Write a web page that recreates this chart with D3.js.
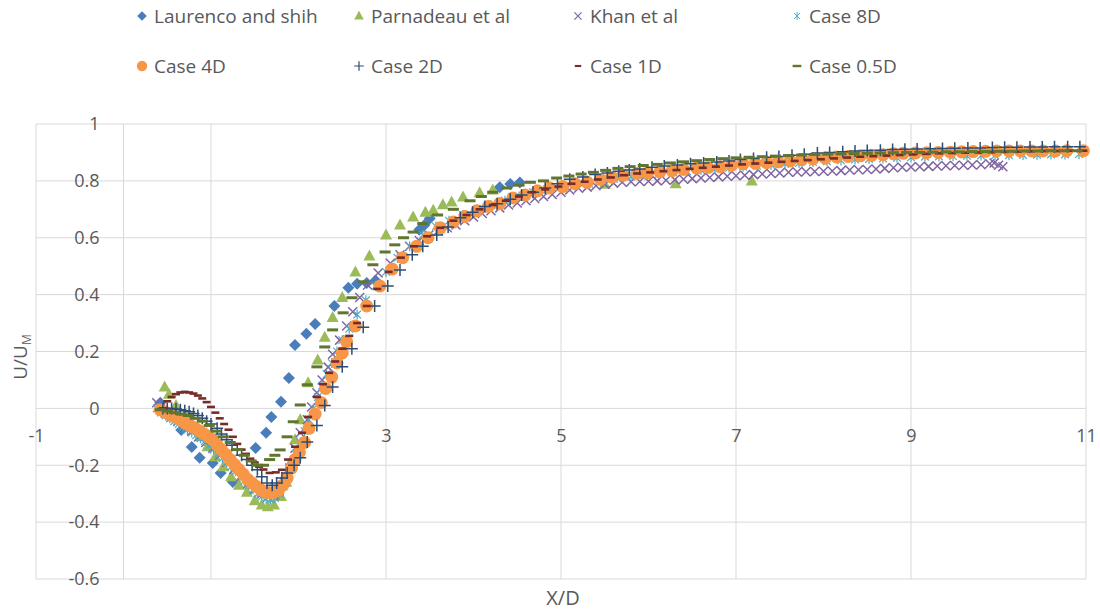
<!DOCTYPE html>
<html>
<head>
<meta charset="utf-8">
<script src="https://cdn.jsdelivr.net/npm/d3@7"></script>
<style>
  body { margin: 0; background: #fff; }
  text { font-family: "Open Sans", "Noto Sans", sans-serif; fill: #595959; }
</style>
</head>
<body>
<svg id="chart" width="1100" height="613"></svg>
<script>
// ---- data (x = X/D, y = U/U_M) ----
var laurenco = [[0.42,0.02],[0.66,-0.076],[0.78,-0.136],[0.87,-0.174],[1.02,-0.192],[1.11,-0.227],[1.25,-0.259],
  [1.51,-0.139],[1.63,-0.086],[1.69,-0.03],[1.80,0.023],[1.89,0.107],[1.96,0.223],[2.09,0.262],[2.19,0.297],
  [2.41,0.36],[2.57,0.424],[2.67,0.438],[2.78,0.441],[2.88,0.45],[3.38,0.628],[3.44,0.645],[3.5,0.668],
  [4.3,0.778],[4.42,0.789],[4.53,0.794]];

var parnadeau = [[0.47,0.075],[0.52,0.05],[0.6,0.01],[0.69,-0.03],[0.78,-0.065],[0.87,-0.1],[0.96,-0.135],[1.05,-0.17],
  [1.14,-0.205],[1.23,-0.24],[1.32,-0.27],[1.41,-0.295],[1.5,-0.325],[1.58,-0.34],[1.65,-0.346],[1.72,-0.34],
  [1.8,-0.31],[1.86,-0.26],[1.91,-0.19],[1.96,-0.11],[2.02,-0.04],[2.11,0.09],[2.22,0.17],[2.30,0.25],[2.39,0.32],
  [2.50,0.39],[2.65,0.48],[2.81,0.536],[3.0,0.61],[3.16,0.645],[3.31,0.673],[3.45,0.69],[3.54,0.697],[3.65,0.716],
  [3.75,0.726],[3.88,0.743],[4.07,0.758],[4.22,0.768],[5.5,0.788],[6.31,0.79],[7.18,0.80]];

var khan = [[0.38,0.02],[0.42,0.0],[0.48,-0.015],[0.55,-0.03],[0.62,-0.045],[0.7,-0.06],[0.78,-0.08],[0.86,-0.1],
  [0.94,-0.12],[1.02,-0.14],[1.1,-0.165],[1.18,-0.19],[1.26,-0.215],[1.34,-0.24],[1.42,-0.265],[1.5,-0.285],
  [1.58,-0.3],[1.65,-0.31],[1.72,-0.305],[1.78,-0.29],[1.84,-0.26],[1.9,-0.21],[1.96,-0.14],[2.02,-0.086],
  [2.10,-0.04],[2.15,0.005],[2.21,0.055],[2.27,0.10],[2.34,0.145],[2.39,0.19],[2.47,0.24],[2.55,0.29],[2.62,0.34],
  [2.70,0.39],[2.79,0.434],[2.91,0.476],[3.05,0.51],[3.16,0.54],[3.27,0.57],[3.38,0.59],[3.49,0.61],[3.6,0.625],
  [3.7,0.635],[3.8,0.645],[3.9,0.66],[4.0,0.673],[4.1,0.685],[4.2,0.695],[4.3,0.705],[4.4,0.715],[4.5,0.722],
  [4.6,0.73],[4.7,0.738],[4.8,0.745],[4.9,0.752],[5.0,0.76],[5.1,0.768],[5.2,0.774],[5.3,0.778],[5.4,0.783],
  [5.5,0.788],[5.6,0.792],[5.7,0.795],[5.8,0.797],[5.9,0.798],[6.0,0.799],[6.1,0.8],[6.2,0.802],[6.3,0.804],
  [6.4,0.806],[6.5,0.808],[6.6,0.81],[6.7,0.812],[6.8,0.814],[6.9,0.816],[7.0,0.818],[7.1,0.82],[7.2,0.822],
  [7.3,0.824],[7.4,0.826],[7.5,0.828],[7.6,0.83],[7.7,0.831],[7.8,0.832],[7.9,0.833],[8.0,0.834],[8.1,0.835],
  [8.2,0.836],[8.3,0.838],[8.4,0.839],[8.5,0.84],[8.6,0.842],[8.7,0.844],[8.8,0.846],[8.9,0.848],[9.0,0.849],
  [9.1,0.85],[9.2,0.851],[9.3,0.852],[9.4,0.853],[9.5,0.854],[9.6,0.855],[9.7,0.856],[9.8,0.857],[9.9,0.86],
  [9.95,0.863],[10.0,0.855],[10.05,0.85]];

var case8D = [[0.38,0.0],[0.43,-0.015],[0.48,-0.025],[0.53,-0.035],[0.58,-0.045],[0.63,-0.055],[0.68,-0.065],
  [0.73,-0.075],[0.78,-0.085],[0.83,-0.095],[0.88,-0.105],[0.93,-0.115],[0.98,-0.13],[1.03,-0.145],[1.08,-0.16],
  [1.13,-0.175],[1.18,-0.19],[1.23,-0.205],[1.28,-0.22],[1.33,-0.24],[1.38,-0.255],[1.43,-0.27],[1.48,-0.285],
  [1.53,-0.3],[1.58,-0.31],[1.63,-0.318],[1.68,-0.32],[1.73,-0.315],[1.78,-0.3],[1.83,-0.275],[1.88,-0.24],
  [1.92,-0.2],[1.97,-0.16],[2.02,-0.12],[2.07,-0.08],[2.12,-0.04],[2.17,0.0],[2.22,0.04],[2.27,0.08],[2.32,0.12],
  [2.38,0.16],[2.44,0.2],[2.5,0.24],[2.58,0.28],[2.67,0.33],[2.77,0.38],[2.88,0.43],[3.0,0.48],[3.13,0.53],
  [3.27,0.57],[3.42,0.61],[3.57,0.64],[3.72,0.66],[3.88,0.68],[4.04,0.7],[4.2,0.715],[4.36,0.73],[4.52,0.745],
  [4.68,0.76],[4.84,0.77],[5.0,0.78],[5.16,0.785],[5.32,0.79],[5.48,0.8],[5.64,0.81],[5.8,0.815],[5.96,0.82],
  [6.12,0.825],[6.28,0.83],[6.44,0.834],[6.6,0.838],[6.76,0.842],[6.92,0.846],[7.08,0.85],[7.24,0.853],[7.4,0.856],
  [7.56,0.86],[7.72,0.863],[7.88,0.866],[8.04,0.869],[8.2,0.872],[8.36,0.875],[8.52,0.877],[8.68,0.879],
  [8.84,0.881],[9.0,0.883],[9.16,0.885],[9.32,0.886],[9.48,0.887],[9.64,0.888],[9.8,0.889],[9.96,0.89],
  [10.12,0.89],[10.28,0.891],[10.44,0.892],[10.6,0.893],[10.76,0.893],[10.92,0.894]];

var case4D = [[0.42,-0.005],[0.47,-0.012],[0.52,-0.02],[0.57,-0.027],[0.62,-0.035],[0.67,-0.045],[0.72,-0.055],
  [0.77,-0.062],[0.82,-0.07],[0.87,-0.08],[0.92,-0.09],[0.97,-0.1],[1.02,-0.11],[1.07,-0.128],[1.12,-0.145],
  [1.17,-0.162],[1.22,-0.18],[1.27,-0.198],[1.32,-0.215],[1.37,-0.232],[1.42,-0.25],[1.47,-0.263],[1.52,-0.275],
  [1.57,-0.286],[1.62,-0.295],[1.67,-0.297],[1.72,-0.295],[1.77,-0.288],[1.82,-0.27],[1.87,-0.245],[1.92,-0.21],
  [1.96,-0.18],[2.01,-0.155],[2.07,-0.12],[2.12,-0.07],[2.19,-0.02],[2.26,0.02],[2.31,0.07],[2.38,0.11],
  [2.44,0.16],[2.5,0.195],[2.55,0.235],[2.65,0.29],[2.78,0.36],[2.93,0.43],[3.07,0.49],[3.19,0.53],[3.35,0.57],
  [3.48,0.6],[3.62,0.635],[3.77,0.655],[3.9,0.675],[4.04,0.695],[4.17,0.71],[4.3,0.72],[4.45,0.74],[4.59,0.75],
  [4.73,0.765],[4.87,0.775],[5.02,0.78],[5.16,0.79],[5.3,0.795],[5.45,0.805],[5.58,0.813],[5.71,0.82],[5.87,0.826],
  [5.99,0.828],[6.13,0.832],[6.27,0.836],[6.4,0.84],[6.55,0.845],[6.68,0.847],[6.82,0.85],[6.95,0.855],[7.08,0.86],
  [7.22,0.862],[7.35,0.864],[7.48,0.867],[7.62,0.87],[7.75,0.874],[7.88,0.877],[8.02,0.88],[8.15,0.884],
  [8.28,0.886],[8.42,0.888],[8.55,0.89],[8.68,0.892],[8.8,0.895],[8.91,0.897],[9.05,0.898],[9.18,0.899],[9.31,0.9],
  [9.45,0.901],[9.58,0.902],[9.71,0.903],[9.85,0.904],[9.98,0.905],[10.12,0.905],[10.25,0.905],[10.38,0.905],
  [10.51,0.905],[10.65,0.905],[10.78,0.906],[10.97,0.906]];

var case2D = [[0.45,0.0],[0.5,0.0],[0.55,0.0],[0.6,-0.002],[0.65,-0.005],[0.7,-0.008],[0.75,-0.012],[0.8,-0.018],
  [0.85,-0.025],[0.9,-0.035],[0.95,-0.045],[1.0,-0.055],[1.07,-0.07],[1.12,-0.09],[1.18,-0.11],[1.24,-0.13],
  [1.3,-0.146],[1.35,-0.165],[1.41,-0.18],[1.47,-0.2],[1.53,-0.216],[1.58,-0.24],[1.64,-0.262],[1.7,-0.27],
  [1.75,-0.262],[1.81,-0.245],[1.87,-0.227],[1.95,-0.2],[2.02,-0.174],[2.1,-0.118],[2.21,-0.06],[2.3,0.01],
  [2.39,0.075],[2.5,0.146],[2.61,0.21],[2.74,0.285],[2.87,0.36],[3.02,0.43],[3.16,0.487],[3.3,0.54],[3.42,0.57],
  [3.58,0.61],[3.71,0.638],[3.85,0.67],[3.99,0.69],[4.13,0.71],[4.27,0.72],[4.42,0.735],[4.55,0.75],[4.68,0.76],
  [4.82,0.775],[4.96,0.79],[5.1,0.806],[5.25,0.814],[5.39,0.822],[5.53,0.828],[5.66,0.834],[5.78,0.838],[5.9,0.842],
  [6.04,0.848],[6.18,0.852],[6.33,0.856],[6.48,0.86],[6.63,0.863],[6.78,0.866],[6.92,0.87],[7.05,0.875],[7.2,0.879],
  [7.35,0.883],[7.49,0.886],[7.64,0.89],[7.78,0.894],[7.93,0.898],[8.07,0.9],[8.22,0.902],[8.36,0.905],[8.5,0.907],
  [8.65,0.908],[8.79,0.91],[8.93,0.911],[9.07,0.912],[9.22,0.913],[9.36,0.914],[9.5,0.915],[9.65,0.916],[9.79,0.916],
  [9.93,0.917],[10.07,0.918],[10.21,0.918],[10.36,0.919],[10.5,0.919],[10.64,0.92],[10.79,0.92],[10.93,0.92]];

var case1D = [[0.45,0.0],[0.5,0.025],[0.55,0.04],[0.6,0.05],[0.65,0.056],[0.7,0.058],[0.75,0.056],[0.8,0.052],
  [0.85,0.045],[0.9,0.035],[0.95,0.022],[1.0,0.005],[1.05,-0.015],[1.1,-0.035],[1.15,-0.055],[1.2,-0.075],
  [1.25,-0.1],[1.3,-0.125],[1.35,-0.145],[1.4,-0.16],[1.45,-0.177],[1.5,-0.19],[1.55,-0.205],[1.6,-0.215],
  [1.67,-0.227],[1.74,-0.225],[1.81,-0.216],[1.88,-0.18],[1.96,-0.135],[2.04,-0.086],[2.11,-0.03],[2.21,0.04],
  [2.28,0.085],[2.35,0.125],[2.42,0.165],[2.5,0.21],[2.58,0.255],[2.67,0.3],[2.78,0.36],[2.9,0.42],[3.03,0.48],
  [3.17,0.53],[3.32,0.57],[3.47,0.605],[3.62,0.635],[3.77,0.66],[3.92,0.68],[4.07,0.7],[4.22,0.715],[4.37,0.73],
  [4.52,0.745],[4.67,0.76],[4.82,0.77],[4.97,0.78],[5.12,0.79],[5.27,0.797],[5.42,0.805],[5.57,0.812],[5.72,0.82],
  [5.87,0.826],[6.02,0.83],[6.17,0.834],[6.32,0.838],[6.47,0.842],[6.62,0.846],[6.77,0.85],[6.92,0.854],
  [7.07,0.858],[7.22,0.861],[7.37,0.864],[7.52,0.867],[7.67,0.87],[7.82,0.873],[7.97,0.876],[8.12,0.879],
  [8.27,0.882],[8.42,0.885],[8.57,0.887],[8.72,0.889],[8.87,0.891],[9.02,0.893],[9.17,0.895],[9.32,0.897],
  [9.47,0.898],[9.62,0.899],[9.77,0.9],[9.92,0.901],[10.07,0.902],[10.22,0.903],[10.37,0.904],[10.52,0.905],
  [10.67,0.905],[10.82,0.906],[10.97,0.906]];

var case05D = [[0.42,-0.005],[0.5,-0.01],[0.58,-0.015],[0.66,-0.02],[0.74,-0.025],[0.82,-0.035],[0.9,-0.045],
  [0.98,-0.06],[1.06,-0.08],[1.14,-0.1],[1.22,-0.12],[1.3,-0.145],[1.38,-0.165],[1.46,-0.185],[1.53,-0.2],
  [1.6,-0.2],[1.67,-0.18],[1.73,-0.165],[1.79,-0.146],[1.87,-0.1],[1.94,-0.047],[2.02,0.012],[2.1,0.083],
  [2.21,0.146],[2.3,0.216],[2.39,0.276],[2.51,0.336],[2.61,0.389],[2.74,0.445],[2.85,0.505],[2.99,0.55],
  [3.1,0.575],[3.2,0.6],[3.31,0.62],[3.42,0.65],[3.59,0.68],[3.77,0.7],[3.96,0.73],[4.09,0.745],[4.22,0.76],
  [4.38,0.775],[4.52,0.785],[4.65,0.795],[4.8,0.8],[4.95,0.81],[5.09,0.817],[5.23,0.824],[5.37,0.83],[5.51,0.837],
  [5.65,0.844],[5.79,0.85],[5.94,0.854],[6.1,0.858],[6.25,0.863],[6.4,0.867],[6.55,0.871],[6.7,0.875],[6.85,0.878],
  [7.0,0.881],[7.15,0.883],[7.3,0.885],[7.45,0.887],[7.6,0.889],[7.75,0.891],[7.9,0.893],[8.05,0.894],[8.2,0.895],
  [8.35,0.896],[8.5,0.897],[8.65,0.898],[8.8,0.899],[8.95,0.9],[9.1,0.9],[9.25,0.901],[9.4,0.902],[9.55,0.902],
  [9.7,0.903],[9.85,0.903],[10.0,0.904],[10.15,0.904],[10.3,0.905],[10.45,0.905],[10.6,0.906],[10.75,0.906],
  [10.9,0.906]];

var seriesNames = ["Laurenco and shih", "Parnadeau et al", "Khan et al", "Case 8D",
                   "Case 4D", "Case 2D", "Case 1D", "Case 0.5D"];
var seriesData = [laurenco, parnadeau, khan, case8D, case4D, case2D, case1D, case05D];
var seriesColors = ["#4a7ebb", "#9bbb59", "#8064a2", "#4bacc6", "#f79646", "#2c4d75", "#772c2a", "#5f7530"];
var seriesShapes = ["diamond", "triangle", "cross", "star", "circle", "plus", "dash", "dashWide"];

var xTicks = [-1, 1, 3, 5, 7, 9, 11];
var yTicks = [-0.6, -0.4, -0.2, 0, 0.2, 0.4, 0.6, 0.8, 1];

// ---- chart ----
var svg = d3.select("#chart");

var x = d3.scaleLinear().domain([-1, 11]).range([36, 1086]);
var y = d3.scaleLinear().domain([-0.6, 1]).range([579, 124]);

// marker shapes, centred on 0,0
var shapes = {
    diamond:  { d: "M0,-6L6,0L0,6L-6,0Z", fill: true },
    triangle: { d: "M0,-6.5L6,4.5L-6,4.5Z", fill: true },
    cross:    { d: "M-4.5,-4.5L4.5,4.5M4.5,-4.5L-4.5,4.5", fill: false, w: 1.5 },
    star:     { d: "M-3.8,-3.8L3.8,3.8M3.8,-3.8L-3.8,3.8M0,-5V5", fill: false, w: 1.2 },
    circle:   { d: d3.symbol().type(d3.symbolCircle).size(133)(), fill: true },
    plus:     { d: "M-6,0H6M0,-6V6", fill: false, w: 1.5 },
    dash:     { d: "M-4,0H4", fill: false, w: 2.6 },
    dashWide: { d: "M-5.5,0H5.5", fill: false, w: 3 }
};

function styleMarker(sel, i) {
    var s = shapes[seriesShapes[i]];
    sel.attr("d", s.d);
    if (s.fill) {
        sel.attr("fill", seriesColors[i]).attr("stroke", "none");
    } else {
        sel.attr("fill", "none").attr("stroke", seriesColors[i]).attr("stroke-width", s.w);
    }
}

// spreadsheet style numbers: plain hyphen for negatives
function fmt(d) {
    return String(+d.toFixed(1));
}

// gridlines
var grid = svg.append("g").attr("class", "grid");
grid.selectAll(".hline")
    .data(yTicks)
    .enter().append("line")
    .attr("x1", x(-1)).attr("x2", x(11))
    .attr("y1", function (d) { return y(d); })
    .attr("y2", function (d) { return y(d); })
    .attr("stroke", "#d9d9d9").attr("stroke-width", 1);
grid.selectAll(".vline")
    .data(xTicks.concat([0]))
    .enter().append("line")
    .attr("x1", function (d) { return x(d); })
    .attr("x2", function (d) { return x(d); })
    .attr("y1", y(1)).attr("y2", y(-0.6))
    .attr("stroke", "#d9d9d9").attr("stroke-width", 1);

// axes (cross at 0,0 like the spreadsheet chart)
var xAxis = svg.append("g")
    .attr("transform", "translate(0," + y(0) + ")")
    .call(d3.axisBottom(x).tickValues(xTicks).tickFormat(fmt).tickSize(0).tickPadding(21));
var yAxis = svg.append("g")
    .attr("transform", "translate(" + x(0) + ",0)")
    .call(d3.axisLeft(y).tickValues(yTicks).tickFormat(fmt).tickSize(0).tickPadding(24));
[xAxis, yAxis].forEach(function (a) {
    a.select(".domain").remove();
    a.selectAll("text").style("font-family", "'Open Sans', sans-serif")
        .style("font-size", "18px").attr("fill", "#595959");
});

// series
seriesData.forEach(function (data, i) {
    svg.append("g").attr("class", "series")
        .selectAll("path")
        .data(data)
        .enter().append("path")
        .attr("transform", function (d) { return "translate(" + x(d[0]) + "," + y(d[1]) + ")"; })
        .call(styleMarker, i);
});

// axis titles
svg.append("text")
    .attr("x", 563).attr("y", 605)
    .attr("text-anchor", "middle")
    .style("font-size", "20px")
    .text("X/D");

var yt = svg.append("text")
    .attr("transform", "translate(27,357) rotate(-90)")
    .attr("text-anchor", "middle")
    .style("font-size", "19px");
yt.append("tspan").text("U/U");
yt.append("tspan").attr("dy", 4).style("font-size", "12px").text("M");

// legend
var legendX = [142, 359, 578, 797];
var legendY = [16, 66];
var legend = svg.append("g").attr("class", "legend")
    .selectAll("g")
    .data(seriesNames)
    .enter().append("g")
    .attr("transform", function (d, i) {
        return "translate(" + legendX[i % 4] + "," + legendY[Math.floor(i / 4)] + ")";
    });
legend.append("path").each(function (d, i) { d3.select(this).call(styleMarker, i); })
    .attr("transform", "scale(0.8)");
legend.append("text")
    .attr("x", 12).attr("dy", "0.35em")
    .style("font-size", "19px")
    .text(function (d) { return d; });
</script>
</body>
</html>
